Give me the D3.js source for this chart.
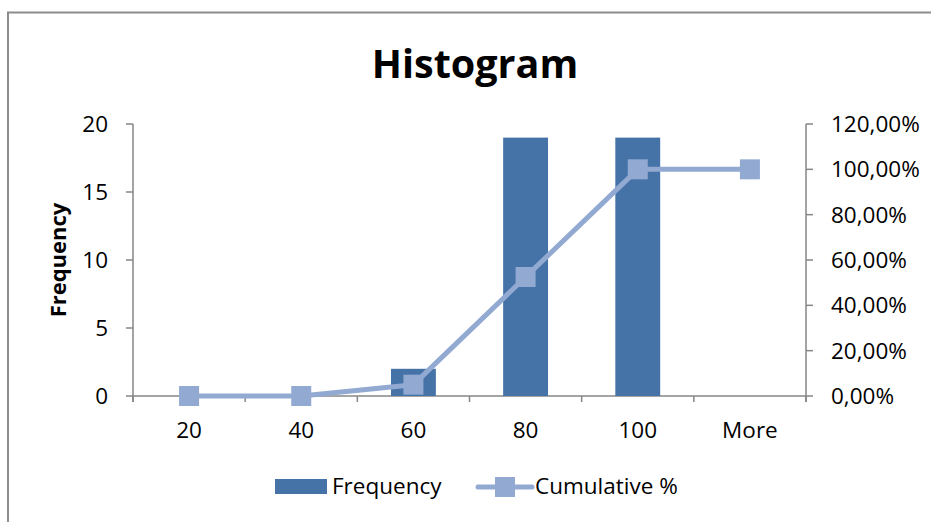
<!DOCTYPE html>
<head>
  <meta charset="utf-8">
  <script src="https://cdn.jsdelivr.net/npm/d3@7"></script>
  <style>
    body { margin: 0; background: #fff; font-family: "Open Sans", Lato, sans-serif; }
    svg { display: block; }
  </style>
</head>
<body>
<div id=chart></div>
<script>
// histogram bins and counts
const bins = ['20', '40', '60', '80', '100', 'More']
const frequency = [0, 0, 2, 19, 19, 0]
const cumulative = [0, 0, 0.05, 0.525, 1, 1]
const left_ticks = [0, 5, 10, 15, 20]
const right_ticks = [0, 0.2, 0.4, 0.6, 0.8, 1, 1.2]

const width = 931, height = 522
const margin = { left: 133, right: 125, top: 124, bottom: 126 }
const bar_color = '#4573a7'
const line_color = '#92a9d1'
const axis_color = '#868686'
const fs = 22.5

const svg = d3.select('#chart').append('svg')
  .attr('width', width).attr('height', height)

// outer frame (runs off the picture on right and bottom)
svg.append('rect')
  .attr('x', 8).attr('y', 12.5)
  .attr('width', 1000).attr('height', 1000)
  .attr('fill', 'none').attr('stroke', '#8c8c8c').attr('stroke-width', 2)

svg.append('text')
  .attr('x', 475).attr('y', 78)
  .attr('text-anchor', 'middle')
  .attr('font-size', 39.5).attr('font-weight', 'bold')
  .text('Histogram')

const x = d3.scaleBand().domain(bins).range([margin.left, width - margin.right])
const y = d3.scaleLinear().domain([0, 20]).range([height - margin.bottom, margin.top])
const y2 = d3.scaleLinear().domain([0, 1.2]).range([height - margin.bottom, margin.top])
const y0 = y(0)

// left axis
const gl = svg.append('g').attr('transform', `translate(${margin.left},0)`)
gl.append('line').attr('x1', 0).attr('x2', 0).attr('y1', margin.top).attr('y2', y0 + 6)
  .attr('stroke', axis_color).attr('stroke-width', 1.5)
gl.selectAll('.tick').data(left_ticks).join('line')
  .attr('x1', -7).attr('x2', 0).attr('y1', d => y(d)).attr('y2', d => y(d))
  .attr('stroke', axis_color).attr('stroke-width', 1.5)
gl.selectAll('.lbl').data(left_ticks).join('text')
  .attr('x', -25).attr('y', d => y(d)).attr('dy', '0.35em')
  .attr('text-anchor', 'end').attr('font-size', fs)
  .text(d => d)

svg.append('text')
  .attr('transform', `translate(66,${(margin.top + y0) / 2}) rotate(-90)`)
  .attr('text-anchor', 'middle')
  .attr('font-size', 22).attr('font-weight', 'bold')
  .text('Frequency')

// right axis
const gr = svg.append('g').attr('transform', `translate(${width - margin.right},0)`)
gr.append('line').attr('x1', 0).attr('x2', 0).attr('y1', margin.top).attr('y2', y0 + 6)
  .attr('stroke', axis_color).attr('stroke-width', 1.5)
gr.selectAll('.tick').data(right_ticks).join('line')
  .attr('x1', 0).attr('x2', 7).attr('y1', d => y2(d)).attr('y2', d => y2(d))
  .attr('stroke', axis_color).attr('stroke-width', 1.5)
gr.selectAll('.lbl').data(right_ticks).join('text')
  .attr('x', 25).attr('y', d => y2(d)).attr('dy', '0.35em')
  .attr('font-size', fs)
  .text(d => (d * 100).toFixed(2).replace('.', ',') + '%')

// x axis
svg.append('line')
  .attr('x1', margin.left).attr('x2', width - margin.right).attr('y1', y0).attr('y2', y0)
  .attr('stroke', axis_color).attr('stroke-width', 1.5)
const bounds = bins.map(b => x(b)).concat([width - margin.right])
svg.selectAll('.xtick').data(bounds).join('line')
  .attr('x1', d => d).attr('x2', d => d).attr('y1', y0).attr('y2', y0 + 6)
  .attr('stroke', axis_color).attr('stroke-width', 1.5)
svg.selectAll('.xlbl').data(bins).join('text')
  .attr('x', d => x(d) + x.bandwidth() / 2).attr('y', y0 + 34)
  .attr('dy', '0.35em')
  .attr('text-anchor', 'middle').attr('font-size', fs)
  .text(d => d)

// bars
const bw = x.bandwidth() * 0.4
svg.append('g').selectAll('rect').data(bins).join('rect')
  .attr('x', (d, i) => x(d) + (x.bandwidth() - bw) / 2)
  .attr('y', (d, i) => y(frequency[i]))
  .attr('width', bw)
  .attr('height', (d, i) => y0 - y(frequency[i]))
  .attr('fill', bar_color)

// cumulative line
const cx = d => x(d) + x.bandwidth() / 2
svg.append('path')
  .datum(bins)
  .attr('d', d3.line().x(cx).y((d, i) => y2(cumulative[i])))
  .attr('fill', 'none').attr('stroke', line_color).attr('stroke-width', 5)
  .attr('stroke-linejoin', 'round')
svg.append('g').selectAll('rect').data(bins).join('rect')
  .attr('x', d => cx(d) - 10)
  .attr('y', (d, i) => y2(cumulative[i]) - 10)
  .attr('width', 20).attr('height', 20)
  .attr('fill', line_color)

// legend
const lg = svg.append('g')
lg.append('rect').attr('x', 275).attr('y', 479).attr('width', 52).attr('height', 15).attr('fill', bar_color)
lg.append('text').attr('x', 332).attr('y', 486).attr('dy', '0.35em').attr('font-size', fs).text('Frequency')
lg.append('line').attr('x1', 478).attr('x2', 532).attr('y1', 487).attr('y2', 487)
  .attr('stroke', line_color).attr('stroke-width', 5).attr('stroke-linecap', 'round')
lg.append('rect').attr('x', 495).attr('y', 477).attr('width', 20).attr('height', 20).attr('fill', line_color)
lg.append('text').attr('x', 535).attr('y', 486).attr('dy', '0.35em').attr('font-size', fs).text('Cumulative %')
</script>
</body>
